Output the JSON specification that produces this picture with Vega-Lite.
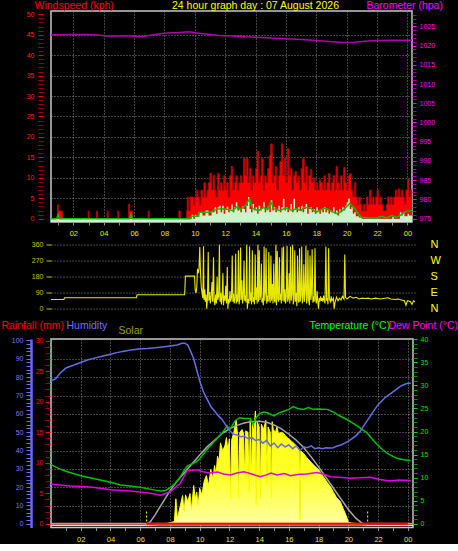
{
"$schema": "https://vega.github.io/schema/vega-lite/v6.json",
"background": "black",
"padding": 0,
"autosize": {"type": "pad"},
"spacing": 20.5,
"bounds": "flush",
"config": {
  "view": {"stroke": "#c8c8c8", "strokeWidth": 1.5},
  "font": "Liberation Sans",
  "axis": {"labelFont": "Liberation Sans", "labelFontSize": 7.5, "titleFont": "Liberation Sans", "titleFontSize": 10.5, "titleFontWeight": "normal", "domain": false, "gridColor": "#8c8c8c", "gridDash": [1, 2], "gridWidth": 1, "labelOverlap": false, "labelFlush": false, "labelBound": false},
  "title": {"font": "Liberation Sans"}
},
"datasets": {
  "gust": [{"h":0,"v":0},{"h":0.95,"v":3.4},{"h":1.02,"v":1.9},{"h":1.3,"v":0},{"h":2.98,"v":1.9},{"h":3.04,"v":0},{"h":3.53,"v":1.9},{"h":3.59,"v":0},{"h":4.23,"v":1.9},{"h":4.29,"v":0},{"h":4.93,"v":1.9},{"h":4.99,"v":0},{"h":5.64,"v":3.6},{"h":5.7,"v":1.9},{"h":5.9,"v":0},{"h":6.93,"v":1.9},{"h":6.99,"v":0},{"h":8.95,"v":1.9},{"h":9.05,"v":0},{"h":9.45,"v":1.9},
    {"h":9.5,"v":5.3},{"h":9.6,"v":1.9},{"h":9.7,"v":5.3},{"h":9.8,"v":5.3},{"h":9.9,"v":3.5},{"h":10.0,"v":5.3},{"h":10.1,"v":7.0},{"h":10.2,"v":5.3},{"h":10.3,"v":3.5},{"h":10.4,"v":7.0},{"h":10.5,"v":5.3},{"h":10.6,"v":8.8},{"h":10.7,"v":5.3},{"h":10.8,"v":7.0},{"h":10.9,"v":8.8},{"h":11.0,"v":11.1},{"h":11.1,"v":7.0},{"h":11.2,"v":10.5},{"h":11.3,"v":7.0},{"h":11.4,"v":5.3},{"h":11.5,"v":11.1},{"h":11.6,"v":7.0},{"h":11.7,"v":8.8},{"h":11.8,"v":7.0},{"h":11.9,"v":10.5},{"h":12.0,"v":7.0},{"h":12.1,"v":8.8},{"h":12.2,"v":5.3},{"h":12.3,"v":10.5},{"h":12.4,"v":12.8},{"h":12.5,"v":7.0},{"h":12.6,"v":8.8},{"h":12.7,"v":10.5},{"h":12.8,"v":7.0},{"h":12.9,"v":8.8},{"h":13.0,"v":10.5},{"h":13.1,"v":8.8},{"h":13.2,"v":14.7},{"h":13.3,"v":10.5},{"h":13.4,"v":14.7},{"h":13.5,"v":8.8},{"h":13.6,"v":12.3},{"h":13.7,"v":7.0},{"h":13.8,"v":10.5},{"h":13.9,"v":8.8},{"h":14.0,"v":12.3},{"h":14.1,"v":16.5},{"h":14.2,"v":8.8},{"h":14.3,"v":10.5},{"h":14.4,"v":14.7},{"h":14.5,"v":7.0},{"h":14.6,"v":10.5},{"h":14.7,"v":8.8},{"h":14.8,"v":12.3},{"h":14.9,"v":15.5},{"h":15.0,"v":18.3},{"h":15.1,"v":8.8},{"h":15.2,"v":10.5},{"h":15.3,"v":12.8},{"h":15.4,"v":7.0},{"h":15.5,"v":10.5},{"h":15.6,"v":14.0},{"h":15.7,"v":18.3},{"h":15.8,"v":10.5},{"h":15.9,"v":14.7},{"h":16.0,"v":8.8},{"h":16.1,"v":17.1},{"h":16.2,"v":10.5},{"h":16.3,"v":12.3},{"h":16.4,"v":7.0},{"h":16.5,"v":10.5},{"h":16.6,"v":11.5},{"h":16.7,"v":8.8},{"h":16.8,"v":10.5},{"h":16.9,"v":7.0},{"h":17.0,"v":12.3},{"h":17.1,"v":14.7},{"h":17.2,"v":8.8},{"h":17.3,"v":12.8},{"h":17.4,"v":7.0},{"h":17.5,"v":10.5},{"h":17.6,"v":12.0},{"h":17.7,"v":8.8},{"h":17.8,"v":10.0},{"h":17.9,"v":7.0},{"h":18.0,"v":8.8},{"h":18.1,"v":7.0},{"h":18.2,"v":9.5},{"h":18.3,"v":8.8},{"h":18.4,"v":7.0},{"h":18.5,"v":10.5},{"h":18.6,"v":7.0},{"h":18.7,"v":8.8},{"h":18.8,"v":11.0},{"h":18.9,"v":7.0},{"h":19.0,"v":8.8},{"h":19.1,"v":10.5},{"h":19.2,"v":7.0},{"h":19.3,"v":12.8},{"h":19.4,"v":8.8},{"h":19.5,"v":7.0},{"h":19.6,"v":10.5},{"h":19.7,"v":7.0},{"h":19.8,"v":12.5},{"h":19.9,"v":8.8},{"h":20.0,"v":7.0},{"h":20.1,"v":10.5},{"h":20.2,"v":11.0},{"h":20.3,"v":7.0},{"h":20.4,"v":5.3},{"h":20.5,"v":8.8},{"h":20.6,"v":5.3},{"h":20.7,"v":3.5},{"h":20.8,"v":5.3},{"h":20.9,"v":3.5},{"h":21.0,"v":1.9},{"h":21.1,"v":3.5},{"h":21.2,"v":1.9},{"h":21.3,"v":5.3},{"h":21.4,"v":3.5},{"h":21.5,"v":7.0},{"h":21.6,"v":3.5},{"h":21.7,"v":5.3},{"h":21.8,"v":3.5},{"h":21.9,"v":5.3},{"h":22.0,"v":7.0},{"h":22.1,"v":3.5},{"h":22.2,"v":5.3},{"h":22.3,"v":3.5},{"h":22.4,"v":1.9},{"h":22.5,"v":1.9},{"h":22.6,"v":3.5},{"h":22.7,"v":5.3},{"h":22.8,"v":3.5},{"h":22.9,"v":5.3},{"h":23.0,"v":3.5},{"h":23.1,"v":5.3},{"h":23.2,"v":7.0},{"h":23.3,"v":5.3},{"h":23.4,"v":7.3},{"h":23.5,"v":5.3},{"h":23.6,"v":7.0},{"h":23.7,"v":5.3},{"h":23.8,"v":3.5},{"h":23.9,"v":7.0},{"h":24.0,"v":9.7},{"h":24.1,"v":5.3},{"h":24.2,"v":7.0},{"h":24.3,"v":7.0}],
  "spd": [{"h":0,"v":0},{"h":9.8,"v":1.0},{"h":9.9,"v":0},{"h":10.0,"v":1.0},{"h":10.1,"v":0.5},{"h":10.3,"v":1.6},{"h":10.5,"v":0.8},{"h":10.7,"v":2.0},{"h":10.9,"v":0.8},{"h":11.1,"v":1.6},{"h":11.3,"v":2.8},{"h":11.4,"v":1.2},{"h":11.5,"v":2.8},{"h":11.6,"v":3.2},{"h":11.7,"v":1.6},{"h":11.8,"v":3.2},{"h":11.9,"v":1.2},{"h":12.0,"v":2.4},{"h":12.1,"v":3.0},{"h":12.2,"v":1.6},{"h":12.3,"v":2.4},{"h":12.4,"v":3.5},{"h":12.5,"v":1.6},{"h":12.6,"v":2.8},{"h":12.7,"v":4.0},{"h":12.8,"v":2.0},{"h":12.9,"v":2.4},{"h":13.0,"v":1.6},{"h":13.1,"v":3.0},{"h":13.2,"v":2.4},{"h":13.3,"v":1.6},{"h":13.4,"v":3.2},{"h":13.5,"v":5.3},{"h":13.6,"v":2.4},{"h":13.7,"v":1.6},{"h":13.8,"v":3.6},{"h":13.9,"v":2.0},{"h":14.0,"v":2.8},{"h":14.1,"v":1.2},{"h":14.2,"v":3.2},{"h":14.3,"v":2.0},{"h":14.4,"v":2.4},{"h":14.5,"v":4.0},{"h":14.6,"v":1.6},{"h":14.7,"v":2.4},{"h":14.8,"v":3.0},{"h":14.9,"v":1.6},{"h":15.0,"v":4.5},{"h":15.1,"v":2.0},{"h":15.2,"v":2.8},{"h":15.3,"v":1.6},{"h":15.4,"v":2.4},{"h":15.5,"v":3.2},{"h":15.6,"v":1.6},{"h":15.7,"v":2.8},{"h":15.8,"v":4.9},{"h":15.9,"v":2.0},{"h":16.0,"v":2.8},{"h":16.1,"v":1.6},{"h":16.2,"v":2.4},{"h":16.3,"v":3.6},{"h":16.4,"v":1.6},{"h":16.5,"v":4.9},{"h":16.6,"v":2.4},{"h":16.7,"v":1.6},{"h":16.8,"v":2.8},{"h":16.9,"v":2.0},{"h":17.0,"v":3.2},{"h":17.1,"v":1.6},{"h":17.2,"v":2.4},{"h":17.3,"v":3.6},{"h":17.4,"v":1.2},{"h":17.5,"v":2.4},{"h":17.6,"v":2.8},{"h":17.7,"v":1.6},{"h":17.8,"v":2.4},{"h":17.9,"v":1.2},{"h":18.0,"v":2.8},{"h":18.1,"v":2.0},{"h":18.2,"v":1.2},{"h":18.3,"v":2.4},{"h":18.4,"v":1.6},{"h":18.5,"v":2.8},{"h":18.6,"v":1.6},{"h":18.7,"v":2.4},{"h":18.8,"v":1.2},{"h":18.9,"v":2.0},{"h":19.0,"v":1.6},{"h":19.1,"v":2.8},{"h":19.2,"v":1.2},{"h":19.3,"v":2.0},{"h":19.4,"v":0.8},{"h":19.5,"v":2.4},{"h":19.6,"v":1.6},{"h":19.7,"v":2.8},{"h":19.8,"v":2.0},{"h":19.9,"v":3.2},{"h":20.0,"v":4.0},{"h":20.1,"v":4.9},{"h":20.2,"v":2.4},{"h":20.3,"v":2.8},{"h":20.4,"v":1.2},{"h":20.5,"v":1.6},{"h":20.6,"v":0.6},{"h":20.8,"v":0.3},{"h":21.0,"v":0},{"h":23.0,"v":0.4},{"h":23.1,"v":0},{"h":23.5,"v":1.6},{"h":23.6,"v":0.8},{"h":23.7,"v":1.6},{"h":23.8,"v":0.6},{"h":24.0,"v":1.2},{"h":24.1,"v":0.8},{"h":24.3,"v":0.8}],
  "avg": [{"h":0,"v":0},{"h":0.9,"v":0},{"h":1.0,"v":1.0},{"h":1.1,"v":0},{"h":5.7,"v":0},{"h":5.8,"v":1.0},{"h":5.9,"v":0},{"h":9.7,"v":0},{"h":9.8,"v":0.6},{"h":10.2,"v":0.6},{"h":10.3,"v":1.6},{"h":11.0,"v":1.6},{"h":11.5,"v":2.4},{"h":12.0,"v":2.4},{"h":12.5,"v":2.0},{"h":12.8,"v":3.0},{"h":13.0,"v":2.2},{"h":13.4,"v":3.5},{"h":13.6,"v":4.9},{"h":13.8,"v":2.5},{"h":14.2,"v":2.0},{"h":14.5,"v":2.8},{"h":14.8,"v":2.2},{"h":15.0,"v":4.2},{"h":15.2,"v":2.4},{"h":15.6,"v":2.0},{"h":16.0,"v":2.6},{"h":16.4,"v":2.0},{"h":16.7,"v":2.4},{"h":17.0,"v":2.0},{"h":17.2,"v":2.8},{"h":17.6,"v":2.6},{"h":18.0,"v":1.6},{"h":18.3,"v":2.2},{"h":18.6,"v":2.6},{"h":19.0,"v":1.8},{"h":19.4,"v":1.2},{"h":19.8,"v":2.2},{"h":20.2,"v":3.7},{"h":20.5,"v":2.6},{"h":20.8,"v":1.0},{"h":21.0,"v":0.3},{"h":21.5,"v":0.2},{"h":22.0,"v":0.2},{"h":22.3,"v":0.6},{"h":22.6,"v":0.2},{"h":23.0,"v":0.8},{"h":23.3,"v":0.3},{"h":23.6,"v":1.0},{"h":23.9,"v":1.8},{"h":24.3,"v":2.0}],
  "baro": [{"h":0,"p":1022.8},{"h":1,"p":1022.8},{"h":2,"p":1022.9},{"h":3,"p":1022.9},{"h":3.8,"p":1022.7},{"h":4.4,"p":1022.4},{"h":5,"p":1022.5},{"h":5.8,"p":1022.5},{"h":6.4,"p":1022.3},{"h":7,"p":1022.6},{"h":7.6,"p":1023.0},{"h":8.2,"p":1023.3},{"h":9,"p":1023.4},{"h":9.6,"p":1023.6},{"h":10.3,"p":1023.2},{"h":11,"p":1022.9},{"h":11.6,"p":1022.6},{"h":12.5,"p":1022.5},{"h":13.3,"p":1022.3},{"h":14,"p":1022.2},{"h":15,"p":1022.0},{"h":16,"p":1021.8},{"h":17,"p":1021.6},{"h":18,"p":1021.3},{"h":19,"p":1021.0},{"h":19.8,"p":1020.8},{"h":20.5,"p":1020.9},{"h":21.2,"p":1021.1},{"h":22,"p":1021.3},{"h":23,"p":1021.4},{"h":24.3,"p":1021.4}],
  "dir": [{"h":0,"d":52},{"h":0.85,"d":52},{"h":0.9,"d":62},{"h":5.65,"d":62},{"h":5.7,"d":79},{"h":8.85,"d":79},{"h":8.9,"d":184},{"h":9.5,"d":184},{"h":9.55,"d":103},{"h":9.6,"d":90},{"h":9.65,"d":120},{"h":9.7,"d":225},{"h":9.75,"d":200},{"h":9.8,"d":225},{"h":9.85,"d":347},{"h":9.9,"d":200},{"h":9.95,"d":120},{"h":10.0,"d":90},{"h":10.05,"d":60},{"h":10.1,"d":352},{"h":10.13,"d":50},{"h":10.18,"d":110},{"h":10.22,"d":40},{"h":10.27,"d":80},{"h":10.31,"d":0},{"h":10.36,"d":60},{"h":10.41,"d":320},{"h":10.45,"d":45},{"h":10.5,"d":95},{"h":10.55,"d":30},{"h":10.6,"d":70},{"h":10.66,"d":150},{"h":10.7,"d":40},{"h":10.76,"d":290},{"h":10.8,"d":50},{"h":10.85,"d":20},{"h":10.9,"d":80},{"h":10.95,"d":30},{"h":11.0,"d":180},{"h":11.04,"d":50},{"h":11.1,"d":70},{"h":11.15,"d":360},{"h":11.19,"d":40},{"h":11.24,"d":90},{"h":11.28,"d":25},{"h":11.33,"d":60},{"h":11.38,"d":200},{"h":11.42,"d":20},{"h":11.47,"d":75},{"h":11.52,"d":45},{"h":11.57,"d":130},{"h":11.62,"d":30},{"h":11.67,"d":235},{"h":11.71,"d":0},{"h":11.76,"d":55},{"h":11.8,"d":30},{"h":11.85,"d":100},{"h":11.9,"d":40},{"h":11.95,"d":65},{"h":12.0,"d":300},{"h":12.04,"d":40},{"h":12.09,"d":85},{"h":12.13,"d":30},{"h":12.18,"d":60},{"h":12.23,"d":310},{"h":12.27,"d":30},{"h":12.32,"d":80},{"h":12.36,"d":40},{"h":12.41,"d":330},{"h":12.45,"d":25},{"h":12.5,"d":60},{"h":12.55,"d":345},{"h":12.59,"d":50},{"h":12.64,"d":160},{"h":12.68,"d":30},{"h":12.73,"d":70},{"h":12.78,"d":270},{"h":12.82,"d":45},{"h":12.87,"d":75},{"h":12.91,"d":35},{"h":12.96,"d":360},{"h":13.0,"d":0},{"h":13.05,"d":55},{"h":13.1,"d":30},{"h":13.15,"d":350},{"h":13.19,"d":45},{"h":13.24,"d":90},{"h":13.28,"d":25},{"h":13.33,"d":330},{"h":13.37,"d":40},{"h":13.42,"d":65},{"h":13.47,"d":25},{"h":13.52,"d":305},{"h":13.56,"d":50},{"h":13.61,"d":120},{"h":13.65,"d":30},{"h":13.7,"d":360},{"h":13.74,"d":40},{"h":13.79,"d":330},{"h":13.83,"d":50},{"h":13.88,"d":75},{"h":13.93,"d":255},{"h":13.97,"d":35},{"h":14.02,"d":60},{"h":14.06,"d":20},{"h":14.11,"d":350},{"h":14.15,"d":45},{"h":14.2,"d":100},{"h":14.24,"d":340},{"h":14.28,"d":30},{"h":14.33,"d":75},{"h":14.38,"d":40},{"h":14.42,"d":320},{"h":14.47,"d":55},{"h":14.51,"d":35},{"h":14.56,"d":300},{"h":14.6,"d":45},{"h":14.65,"d":140},{"h":14.7,"d":30},{"h":14.75,"d":255},{"h":14.79,"d":50},{"h":14.84,"d":35},{"h":14.89,"d":360},{"h":14.93,"d":20},{"h":14.98,"d":325},{"h":15.02,"d":55},{"h":15.07,"d":40},{"h":15.12,"d":290},{"h":15.16,"d":50},{"h":15.21,"d":85},{"h":15.25,"d":30},{"h":15.3,"d":345},{"h":15.35,"d":45},{"h":15.4,"d":350},{"h":15.44,"d":40},{"h":15.49,"d":110},{"h":15.53,"d":30},{"h":15.58,"d":70},{"h":15.63,"d":355},{"h":15.67,"d":40},{"h":15.72,"d":60},{"h":15.77,"d":200},{"h":15.81,"d":30},{"h":15.86,"d":350},{"h":15.9,"d":45},{"h":15.95,"d":80},{"h":16.0,"d":360},{"h":16.04,"d":25},{"h":16.09,"d":60},{"h":16.14,"d":330},{"h":16.18,"d":40},{"h":16.23,"d":90},{"h":16.28,"d":15},{"h":16.32,"d":300},{"h":16.37,"d":50},{"h":16.41,"d":35},{"h":16.46,"d":340},{"h":16.5,"d":40},{"h":16.55,"d":75},{"h":16.6,"d":350},{"h":16.64,"d":30},{"h":16.69,"d":60},{"h":16.74,"d":250},{"h":16.78,"d":40},{"h":16.83,"d":95},{"h":16.88,"d":355},{"h":16.92,"d":30},{"h":16.97,"d":60},{"h":17.01,"d":330},{"h":17.06,"d":45},{"h":17.11,"d":20},{"h":17.15,"d":300},{"h":17.2,"d":50},{"h":17.24,"d":80},{"h":17.29,"d":335},{"h":17.34,"d":35},{"h":17.38,"d":70},{"h":17.43,"d":40},{"h":17.48,"d":340},{"h":17.52,"d":55},{"h":17.57,"d":30},{"h":17.62,"d":100},{"h":17.66,"d":45},{"h":17.71,"d":0},{"h":17.76,"d":60},{"h":17.8,"d":40},{"h":17.85,"d":70},{"h":17.9,"d":45},{"h":17.95,"d":60},{"h":18.0,"d":40},{"h":18.05,"d":75},{"h":18.09,"d":50},{"h":18.14,"d":30},{"h":18.2,"d":350},{"h":18.25,"d":45},{"h":18.3,"d":60},{"h":18.34,"d":25},{"h":18.38,"d":340},{"h":18.43,"d":55},{"h":18.5,"d":40},{"h":18.55,"d":70},{"h":18.6,"d":45},{"h":18.7,"d":60},{"h":18.75,"d":0},{"h":18.8,"d":35},{"h":18.9,"d":65},{"h":19.0,"d":45},{"h":19.1,"d":60},{"h":19.2,"d":50},{"h":19.3,"d":70},{"h":19.4,"d":55},{"h":19.45,"d":305},{"h":19.5,"d":65},{"h":19.6,"d":55},{"h":19.8,"d":70},{"h":20.0,"d":60},{"h":20.2,"d":65},{"h":20.4,"d":55},{"h":20.6,"d":60},{"h":20.8,"d":58},{"h":21.0,"d":60},{"h":21.2,"d":55},{"h":21.5,"d":60},{"h":21.8,"d":55},{"h":22.0,"d":58},{"h":22.3,"d":62},{"h":22.5,"d":55},{"h":22.8,"d":52},{"h":23.0,"d":55},{"h":23.2,"d":50},{"h":23.4,"d":45},{"h":23.5,"d":20},{"h":23.6,"d":45},{"h":23.8,"d":40},{"h":23.9,"d":25},{"h":24.0,"d":45},{"h":24.1,"d":40}],
  "hum": [{"h":0,"v":78},{"h":0.3,"v":79},{"h":0.6,"v":82},{"h":1.0,"v":85},{"h":1.5,"v":86.5},{"h":2,"v":88},{"h":2.5,"v":89.5},{"h":3,"v":90.5},{"h":3.5,"v":91.5},{"h":4,"v":92.5},{"h":4.5,"v":93.5},{"h":5,"v":94.3},{"h":5.5,"v":95},{"h":6,"v":95.5},{"h":6.5,"v":95.6},{"h":7,"v":96},{"h":7.5,"v":96.5},{"h":8,"v":97},{"h":8.5,"v":97.5},{"h":8.8,"v":98.5},{"h":9.0,"v":98.5},{"h":9.2,"v":97.5},{"h":9.4,"v":94},{"h":9.6,"v":90},{"h":9.8,"v":84},{"h":10.0,"v":78},{"h":10.25,"v":72},{"h":10.5,"v":68},{"h":10.75,"v":64},{"h":11.0,"v":61.5},{"h":11.25,"v":59},{"h":11.5,"v":57},{"h":11.75,"v":54},{"h":12.0,"v":51},{"h":12.25,"v":49},{"h":12.5,"v":48.5},{"h":12.75,"v":47.5},{"h":13.0,"v":47.8},{"h":13.25,"v":46.5},{"h":13.5,"v":47},{"h":13.75,"v":45.5},{"h":14.0,"v":46},{"h":14.25,"v":44},{"h":14.5,"v":45.5},{"h":14.75,"v":42.5},{"h":15.0,"v":44},{"h":15.25,"v":41.5},{"h":15.5,"v":43.5},{"h":15.75,"v":42},{"h":16.0,"v":43},{"h":16.25,"v":41},{"h":16.5,"v":42.5},{"h":16.75,"v":40},{"h":17.0,"v":42},{"h":17.25,"v":41.5},{"h":17.5,"v":42.5},{"h":17.75,"v":41},{"h":18.0,"v":41.5},{"h":18.25,"v":41},{"h":18.5,"v":41.5},{"h":18.75,"v":41.3},{"h":19.0,"v":41.5},{"h":19.25,"v":42.5},{"h":19.5,"v":43},{"h":19.75,"v":44},{"h":20.0,"v":45},{"h":20.25,"v":46.5},{"h":20.5,"v":48},{"h":20.75,"v":50},{"h":21.0,"v":53},{"h":21.25,"v":56},{"h":21.5,"v":59},{"h":21.75,"v":62},{"h":22.0,"v":65},{"h":22.25,"v":67},{"h":22.5,"v":69},{"h":22.75,"v":70.5},{"h":23.0,"v":72},{"h":23.25,"v":73.5},{"h":23.5,"v":75},{"h":23.75,"v":76},{"h":24.0,"v":76.7},{"h":24.2,"v":76.7}],
  "temp": [{"h":0,"v":12.8},{"h":0.5,"v":12.0},{"h":1,"v":11.4},{"h":1.5,"v":10.9},{"h":2,"v":10.4},{"h":3,"v":9.7},{"h":4,"v":9.0},{"h":4.67,"v":8.4},{"h":5,"v":8.3},{"h":6,"v":7.9},{"h":7,"v":7.3},{"h":7.4,"v":7.1},{"h":7.7,"v":7.2},{"h":8.0,"v":7.8},{"h":8.3,"v":8.6},{"h":8.7,"v":10.2},{"h":9.0,"v":11.8},{"h":9.2,"v":12.6},{"h":9.5,"v":13.0},{"h":9.8,"v":13.5},{"h":10.0,"v":14.1},{"h":10.5,"v":16.1},{"h":11.0,"v":17.9},{"h":11.5,"v":19.6},{"h":11.85,"v":21.2},{"h":12.0,"v":20.4},{"h":12.1,"v":20.8},{"h":12.4,"v":22.4},{"h":12.7,"v":23.0},{"h":13.0,"v":22.8},{"h":13.4,"v":22.8},{"h":13.6,"v":21.5},{"h":13.8,"v":23.0},{"h":14.0,"v":23.8},{"h":14.3,"v":24.2},{"h":14.6,"v":24.0},{"h":15.0,"v":23.4},{"h":15.3,"v":24.0},{"h":15.65,"v":24.4},{"h":16.0,"v":24.8},{"h":16.3,"v":25.4},{"h":16.6,"v":25.0},{"h":17.0,"v":24.8},{"h":17.3,"v":25.2},{"h":17.67,"v":24.8},{"h":18.0,"v":24.9},{"h":18.57,"v":24.8},{"h":19.0,"v":24.2},{"h":19.24,"v":23.7},{"h":19.6,"v":23.1},{"h":19.9,"v":22.6},{"h":20.3,"v":21.8},{"h":20.6,"v":21.2},{"h":21.0,"v":20.3},{"h":21.26,"v":19.7},{"h":21.6,"v":18.4},{"h":21.93,"v":17.2},{"h":22.3,"v":16.1},{"h":22.6,"v":15.3},{"h":23.0,"v":14.6},{"h":23.27,"v":14.2},{"h":23.7,"v":13.9},{"h":24.17,"v":13.7}],
  "dew": [{"h":0,"v":8.6},{"h":1.3,"v":8.2},{"h":2.66,"v":8.0},{"h":4.0,"v":7.4},{"h":5.35,"v":7.1},{"h":6.7,"v":6.6},{"h":7.36,"v":6.2},{"h":8.0,"v":6.9},{"h":8.7,"v":8.8},{"h":9.15,"v":11.5},{"h":9.5,"v":11.6},{"h":9.83,"v":11.7},{"h":10.2,"v":11.3},{"h":10.7,"v":11.0},{"h":11.2,"v":11.2},{"h":11.6,"v":10.8},{"h":12.07,"v":10.6},{"h":12.5,"v":11.0},{"h":12.97,"v":11.3},{"h":13.5,"v":10.8},{"h":14.08,"v":10.2},{"h":14.5,"v":10.6},{"h":14.8,"v":11.0},{"h":15.2,"v":10.6},{"h":15.7,"v":10.9},{"h":16.1,"v":10.4},{"h":16.6,"v":10.7},{"h":17.2,"v":10.8},{"h":17.9,"v":11.1},{"h":18.3,"v":10.8},{"h":18.8,"v":10.2},{"h":19.4,"v":10.1},{"h":20.1,"v":9.85},{"h":20.8,"v":10.0},{"h":21.5,"v":10.1},{"h":22.1,"v":9.6},{"h":22.8,"v":9.3},{"h":23.4,"v":9.5},{"h":24.2,"v":9.4}],
  "sol": [{"h":0,"v":0},{"h":6.5,"v":0},{"h":7.0,"v":5},{"h":7.5,"v":10},{"h":8.0,"v":20},{"h":8.3,"v":30},{"h":8.4,"v":200},{"h":8.5,"v":50},{"h":8.7,"v":150},{"h":8.85,"v":225},{"h":8.95,"v":100},{"h":9.05,"v":230},{"h":9.2,"v":180},{"h":9.35,"v":240},{"h":9.45,"v":120},{"h":9.6,"v":300},{"h":9.7,"v":200},{"h":9.8,"v":250},{"h":9.9,"v":150},{"h":10.0,"v":280},{"h":10.15,"v":230},{"h":10.3,"v":330},{"h":10.45,"v":375},{"h":10.6,"v":300},{"h":10.75,"v":420},{"h":10.9,"v":350},{"h":11.0,"v":450},{"h":11.1,"v":380},{"h":11.2,"v":520},{"h":11.3,"v":480},{"h":11.4,"v":620},{"h":11.55,"v":560},{"h":11.7,"v":600},{"h":11.8,"v":660},{"h":11.9,"v":560},{"h":12.0,"v":650},{"h":12.08,"v":200},{"h":12.15,"v":640},{"h":12.3,"v":700},{"h":12.45,"v":790},{"h":12.55,"v":680},{"h":12.62,"v":200},{"h":12.7,"v":700},{"h":12.85,"v":720},{"h":12.95,"v":690},{"h":13.03,"v":350},{"h":13.1,"v":710},{"h":13.25,"v":700},{"h":13.33,"v":250},{"h":13.4,"v":790},{"h":13.47,"v":300},{"h":13.55,"v":760},{"h":13.65,"v":700},{"h":13.75,"v":860},{"h":13.8,"v":150},{"h":13.87,"v":780},{"h":14.0,"v":740},{"h":14.07,"v":200},{"h":14.15,"v":760},{"h":14.3,"v":720},{"h":14.45,"v":790},{"h":14.53,"v":300},{"h":14.6,"v":740},{"h":14.75,"v":700},{"h":14.82,"v":200},{"h":14.88,"v":780},{"h":14.95,"v":720},{"h":15.1,"v":700},{"h":15.2,"v":740},{"h":15.3,"v":690},{"h":15.5,"v":700},{"h":15.65,"v":690},{"h":15.8,"v":670},{"h":16.0,"v":650},{"h":16.2,"v":630},{"h":16.4,"v":610},{"h":16.6,"v":590},{"h":16.7,"v":570},{"h":16.75,"v":40},{"h":16.8,"v":560},{"h":17.0,"v":540},{"h":17.2,"v":510},{"h":17.45,"v":480},{"h":17.7,"v":450},{"h":18.0,"v":420},{"h":18.3,"v":370},{"h":18.6,"v":320},{"h":18.8,"v":290},{"h":19.0,"v":250},{"h":19.2,"v":210},{"h":19.46,"v":180},{"h":19.6,"v":140},{"h":19.8,"v":90},{"h":19.9,"v":60},{"h":20.0,"v":25},{"h":20.2,"v":18},{"h":20.5,"v":15},{"h":20.8,"v":10},{"h":21.0,"v":5},{"h":21.2,"v":0},{"h":24.35,"v":0}],
  "solmax": [{"h":6.3,"v":0},{"h":6.7,"v":30},{"h":7.0,"v":80},{"h":7.5,"v":170},{"h":8.0,"v":260},{"h":8.5,"v":335},{"h":9.0,"v":400},{"h":9.5,"v":465},{"h":10.0,"v":530},{"h":10.5,"v":590},{"h":11.0,"v":640},{"h":11.5,"v":690},{"h":12.0,"v":725},{"h":12.5,"v":752},{"h":13.0,"v":770},{"h":13.5,"v":780},{"h":14.0,"v":782},{"h":14.5,"v":775},{"h":15.0,"v":755},{"h":15.5,"v":725},{"h":16.0,"v":685},{"h":16.5,"v":640},{"h":17.0,"v":585},{"h":17.5,"v":515},{"h":18.0,"v":440},{"h":18.5,"v":360},{"h":19.0,"v":280},{"h":19.5,"v":200},{"h":20.0,"v":120},{"h":20.5,"v":55},{"h":21.0,"v":10},{"h":21.2,"v":0}],
  "sun": [{"h":6.43,"lo":0,"hi":120},{"h":21.3,"lo":0,"hi":120}],
  "rain": [{"h":0,"v":0},{"h":24.35,"v":0}],
  "rain2": [{"h":6.4,"v":0},{"h":24.0,"v":0}]
},
"vconcat": [
   {
    "width": 361, "height": 211,
    "encoding": {"x": {"field": "h", "type": "quantitative", "scale": {"domain": [0.53, 24.3], "nice": false, "zero": false},
      "axis": {"values": [1,2,3,4,5,6,7,8,9,10,11,12,13,14,15,16,17,18,19,20,21,22,23,24], "labelExpr": "datum.value % 2 == 0 ? (datum.value == 24 ? '00' : (datum.value < 10 ? '0' + datum.value : '' + datum.value)) : ''", "labelColor": "#e8e800", "tickColor": "#909090", "tickSize": 3, "labelPadding": 4, "grid": true, "gridOpacity": {"condition": {"test": "datum.value % 2 == 0", "value": 1}, "value": 0}, "title": null}}},
    "layer": [
     {"data": {"name": "gust"}, "mark": {"type": "area", "interpolate": "step-after", "color": "#ff0000", "opacity": 1, "clip": true},
      "encoding": {"y": {"field": "v", "type": "quantitative", "scale": {"domain": [-0.8, 50.8], "nice": false, "zero": false},
        "axis": {"values": [0,1,2,3,4,5,6,7,8,9,10,11,12,13,14,15,16,17,18,19,20,21,22,23,24,25,26,27,28,29,30,31,32,33,34,35,36,37,38,39,40,41,42,43,44,45,46,47,48,49,50], "labelExpr": "datum.value % 5 == 0 ? datum.label : ''", "labelColor": "#ff2020", "labelFontSize": 7, "tickColor": {"condition": {"test": "datum.value % 5 == 0", "value": "#ff0000"}, "value": "#a00000"}, "tickSize": 5, "offset": 8, "labelPadding": 4, "grid": true, "gridOpacity": {"condition": {"test": "datum.value % 5 == 0 && datum.value > 0 && datum.value < 50", "value": 1}, "value": 0}, "title": "Windspeed (kph)", "titleAngle": 0, "titleX": -9, "titleY": -2.2, "titleAlign": "left", "titleBaseline": "alphabetic", "titleColor": "#ff0000"}},
       "y2": {"datum": 0}}},
     {"data": {"name": "gust"}, "mark": {"type": "line", "interpolate": "step-after", "color": "#b00000", "strokeWidth": 1, "clip": true},
      "encoding": {"y": {"field": "v", "type": "quantitative", "scale": {"domain": [-0.8, 50.8], "nice": false, "zero": false},
        "axis": {"orient": "left", "labels": false, "ticks": false, "grid": false, "domain": false, "title": "24 hour graph day : 07 August 2026", "titleAngle": 0, "titleX": 204, "titleY": -2.2, "titleAlign": "center", "titleBaseline": "alphabetic", "titleColor": "#ffff00"}}}},
     {"data": {"name": "spd"}, "mark": {"type": "area", "interpolate": "step-after", "color": "#ccf4cc", "opacity": 1, "clip": true},
      "encoding": {"y": {"field": "v", "type": "quantitative", "scale": {"domain": [-0.8, 50.8], "nice": false, "zero": false}, "axis": null}, "y2": {"datum": -0.8}}},
     {"data": {"name": "avg"}, "mark": {"type": "line", "color": "#00c000", "strokeWidth": 1.5, "clip": true},
      "encoding": {"y": {"field": "v", "type": "quantitative", "scale": {"domain": [-0.8, 50.8], "nice": false, "zero": false}, "axis": null}}},
     {"data": {"name": "baro"}, "mark": {"type": "line", "color": "#b000b0", "strokeWidth": 1.5, "clip": true},
      "encoding": {"y": {"field": "p", "type": "quantitative", "scale": {"domain": [974.1, 1029], "nice": false, "zero": false},
        "axis": {"orient": "right", "values": [975,976,977,978,979,980,981,982,983,984,985,986,987,988,989,990,991,992,993,994,995,996,997,998,999,1000,1001,1002,1003,1004,1005,1006,1007,1008,1009,1010,1011,1012,1013,1014,1015,1016,1017,1018,1019,1020,1021,1022,1023,1024,1025,1026,1027,1028], "labelExpr": "datum.value % 5 == 0 ? '' + datum.value : ''", "labelColor": "#ff00ff", "labelFontSize": 7, "tickColor": {"condition": {"test": "datum.value % 5 == 0", "value": "#ff00ff"}, "value": "#a000a0"}, "tickSize": 4, "labelPadding": 3, "grid": false, "title": "Barometer (hpa)", "titleAngle": 0, "titleX": -46, "titleY": -2.2, "titleAlign": "left", "titleBaseline": "alphabetic", "titleColor": "#ff00ff"}}}}
    ],
    "resolve": {"scale": {"y": "independent"}, "axis": {"y": "independent"}}
   },
   {
    "width": 364, "height": 76,
    "view": {"stroke": null},
    "encoding": {"x": {"field": "h", "type": "quantitative", "scale": {"domain": [0, 24.1], "nice": false, "zero": false}, "axis": null}},
    "layer": [
     {"data": {"name": "dir"}, "mark": {"type": "line", "color": "#e8e800", "strokeWidth": 1.1, "clip": true},
      "encoding": {"y": {"field": "d", "type": "quantitative", "scale": {"domain": [-54.6, 373], "nice": false, "zero": false},
        "axis": {"values": [0, 90, 180, 270, 360], "labelColor": "#c8c800", "labelFontSize": 7, "tickColor": "#c8c800", "tickSize": 5, "labelPadding": 3, "grid": true, "title": null}}}},
     {"data": {"name": "dir"}, "mark": {"type": "point", "opacity": 0},
      "encoding": {"y": {"field": "d", "type": "quantitative",
        "axis": {"orient": "right", "values": [0, 90, 180, 270, 360], "labelExpr": "datum.value == 90 ? 'E' : (datum.value == 180 ? 'S' : (datum.value == 270 ? 'W' : 'N'))", "labelColor": "#ffff00", "labelFontSize": 11, "ticks": false, "domain": false, "labelPadding": 15, "grid": false, "title": null}}}},
     {"data": {"values": [{}]}, "mark": {"type": "rule", "color": "#b0b0b0", "strokeWidth": 1.5},
      "encoding": {"y": {"datum": 373, "type": "quantitative", "axis": null}}},
     {"data": {"values": [{}]}, "mark": {"type": "rule", "color": "#d8d8d8", "strokeWidth": 1.5},
      "encoding": {"y": {"datum": -9.6, "type": "quantitative", "axis": null}}},
     {"data": {"values": [{}]}, "mark": {"type": "rule", "color": "#d8d8d8", "strokeWidth": 2},
      "encoding": {"x": {"datum": 0, "type": "quantitative"}, "y": {"datum": -9.6, "type": "quantitative", "axis": null}, "y2": {"datum": 373}}}
    ],
    "resolve": {"axis": {"y": "independent"}}
   },
 {
  "width": 362, "height": 188.5,
  "encoding": {"x": {"field": "h", "type": "quantitative", "scale": {"domain": [0, 24.35], "nice": false, "zero": false},
    "axis": {"values": [1,2,3,4,5,6,7,8,9,10,11,12,13,14,15,16,17,18,19,20,21,22,23,24], "labelExpr": "datum.value % 2 == 0 ? (datum.value == 24 ? '00' : (datum.value < 10 ? '0' + datum.value : '' + datum.value)) : ''", "labelColor": "#e8e800", "tickColor": "#909090", "tickSize": 3, "labelPadding": 5, "grid": true, "gridOpacity": {"condition": {"test": "datum.value % 2 == 0", "value": 1}, "value": 0}, "title": null}}},
  "layer": [
   {"data": {"name": "sol"}, "mark": {"type": "area", "opacity": 1, "color": {"gradient": "linear", "x1": 0, "y1": 0, "x2": 0, "y2": 1, "stops": [{"offset": 0, "color": "#ffff00"}, {"offset": 0.6, "color": "#ffff30"}, {"offset": 1, "color": "#ffffa8"}]}, "line": {"color": "#ffff00", "strokeWidth": 1}, "clip": true},
    "encoding": {"y": {"field": "v", "type": "quantitative", "scale": {"domain": [-15, 1400], "nice": false, "zero": false},
      "axis": {"orient": "left", "labels": false, "ticks": false, "grid": false, "domain": false, "title": "Solar", "titleAngle": 0, "titleX": 67, "titleY": -5.5, "titleAlign": "left", "titleBaseline": "alphabetic", "titleColor": "#a0a000"}}, "y2": {"datum": 0}}},
   {"data": {"name": "solmax"}, "mark": {"type": "line", "color": "#a8a8a8", "strokeWidth": 1.5, "clip": true},
    "encoding": {"y": {"field": "v", "type": "quantitative", "scale": {"domain": [-15, 1400], "nice": false, "zero": false}, "axis": null}}},
   {"data": {"name": "sun"}, "mark": {"type": "rule", "color": "#ffff00", "strokeDash": [2, 2], "strokeWidth": 1},
    "encoding": {"y": {"field": "lo", "type": "quantitative", "scale": {"domain": [-15, 1400], "nice": false, "zero": false}, "axis": null}, "y2": {"field": "hi"}}},
   {"data": {"name": "rain"}, "mark": {"type": "line", "color": "#f08080", "strokeWidth": 2, "clip": true},
    "encoding": {"y": {"field": "v", "type": "quantitative", "scale": {"domain": [-0.6, 30.25], "nice": false, "zero": false},
      "axis": {"orient": "left", "offset": 1, "values": [0,1,2,3,4,5,6,7,8,9,10,11,12,13,14,15,16,17,18,19,20,21,22,23,24,25,26,27,28,29,30], "labelExpr": "datum.value % 5 == 0 ? datum.label : ''", "labelColor": "#ff0000", "labelFontSize": 7, "tickColor": {"condition": {"test": "datum.value % 5 == 0", "value": "#ff0000"}, "value": "#a00000"}, "tickSize": 5, "labelPadding": 2, "grid": true, "gridOpacity": {"condition": {"test": "datum.value % 3 == 0 && datum.value > 0 && datum.value < 30", "value": 1}, "value": 0}, "title": "Rainfall (mm)", "titleAngle": 0, "titleX": -49, "titleY": -11, "titleAlign": "left", "titleBaseline": "alphabetic", "titleColor": "#ff0000"}}}},
   {"data": {"name": "rain2"}, "mark": {"type": "line", "color": "#ff0000", "strokeWidth": 2, "clip": true},
    "encoding": {"y": {"field": "v", "type": "quantitative", "scale": {"domain": [-0.6, 30.25], "nice": false, "zero": false}, "axis": null}}},
   {"data": {"name": "dew"}, "mark": {"type": "line", "color": "#e000e0", "strokeWidth": 1.5, "clip": true},
    "encoding": {"y": {"field": "v", "type": "quantitative", "scale": {"domain": [-0.8, 40.05], "nice": false, "zero": false},
      "axis": {"orient": "right", "labels": false, "ticks": false, "grid": false, "domain": false, "title": "Dew Point (°C)", "titleAngle": 0, "titleX": -25, "titleY": -11, "titleAlign": "left", "titleBaseline": "alphabetic", "titleColor": "#ff00ff"}}}},
   {"data": {"name": "temp"}, "mark": {"type": "line", "color": "#00c000", "strokeWidth": 1.5, "clip": true},
    "encoding": {"y": {"field": "v", "type": "quantitative", "scale": {"domain": [-0.8, 40.05], "nice": false, "zero": false},
      "axis": {"orient": "right", "values": [0,1,2,3,4,5,6,7,8,9,10,11,12,13,14,15,16,17,18,19,20,21,22,23,24,25,26,27,28,29,30,31,32,33,34,35,36,37,38,39,40], "labelExpr": "datum.value % 5 == 0 ? datum.label : ''", "labelColor": "#00e000", "labelFontSize": 7, "tickColor": {"condition": {"test": "datum.value % 5 == 0", "value": "#00e000"}, "value": "#009000"}, "tickSize": 4, "labelPadding": 3, "grid": false, "title": "Temperature (°C)", "titleAngle": 0, "titleX": -104, "titleY": -11, "titleAlign": "left", "titleBaseline": "alphabetic", "titleColor": "#00ff00"}}}},
   {"data": {"name": "hum"}, "mark": {"type": "line", "color": "#6a6ae8", "strokeWidth": 1.5, "clip": true},
    "encoding": {"y": {"field": "v", "type": "quantitative", "scale": {"domain": [-2, 100.8], "nice": false, "zero": false},
      "axis": {"orient": "left", "offset": 20, "values": [0,2,4,6,8,10,12,14,16,18,20,22,24,26,28,30,32,34,36,38,40,42,44,46,48,50,52,54,56,58,60,62,64,66,68,70,72,74,76,78,80,82,84,86,88,90,92,94,96,98,100], "labelExpr": "datum.value % 10 == 0 ? datum.label : ''", "labelColor": "#7878ff", "labelFontSize": 7, "tickColor": "#7070ff", "tickSize": 5, "labelPadding": 3, "domain": true, "domainColor": "#6868ff", "domainWidth": 2.5, "grid": false, "title": "Humidity", "titleAngle": 0, "titleX": 35, "titleY": -11, "titleAlign": "left", "titleBaseline": "alphabetic", "titleColor": "#7070ff"}}}}
  ],
  "resolve": {"scale": {"y": "independent"}, "axis": {"y": "independent"}}
 }
]
}
